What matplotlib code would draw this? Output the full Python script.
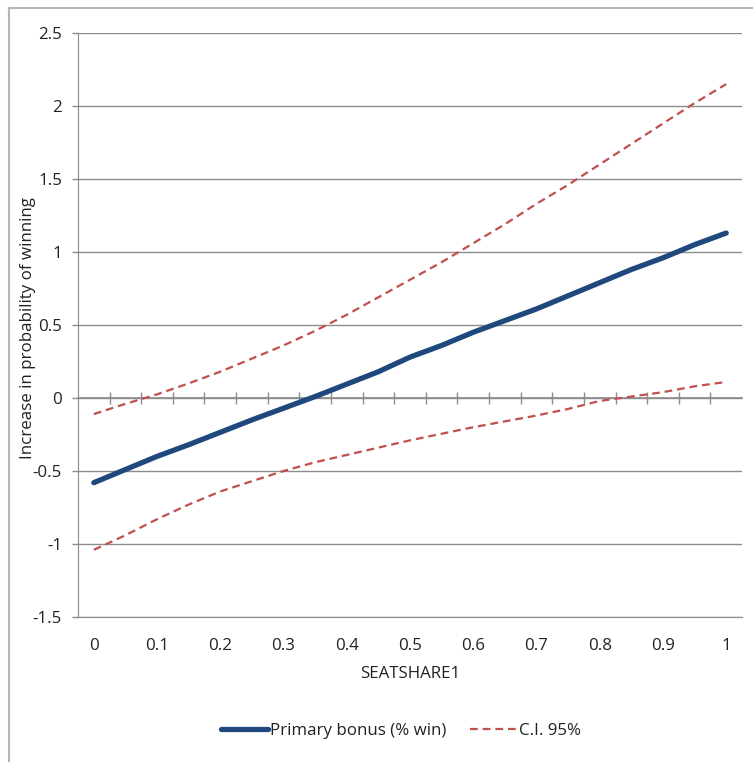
import matplotlib
matplotlib.use("Agg")
import matplotlib.pyplot as plt
from matplotlib.lines import Line2D
import numpy as np

seatshare = [0.00, 0.05, 0.10, 0.15, 0.20, 0.25, 0.30, 0.35, 0.40, 0.45, 0.50,
             0.55, 0.60, 0.65, 0.70, 0.75, 0.80, 0.85, 0.90, 0.95, 1.00]
primary_bonus = [-0.58, -0.49, -0.40, -0.32, -0.235, -0.15, -0.07, 0.01, 0.095, 0.18, 0.28,
                 0.36, 0.45, 0.53, 0.61, 0.70, 0.79, 0.88, 0.96, 1.05, 1.13]
ci_upper = [-0.11, -0.04, 0.025, 0.10, 0.18, 0.27, 0.36, 0.46, 0.57, 0.69, 0.81,
            0.93, 1.06, 1.19, 1.33, 1.46, 1.60, 1.74, 1.88, 2.02, 2.15]
ci_lower = [-1.04, -0.94, -0.83, -0.73, -0.64, -0.57, -0.50, -0.44, -0.39, -0.34, -0.29,
            -0.245, -0.20, -0.16, -0.12, -0.075, -0.02, 0.01, 0.04, 0.08, 0.11]
x_ticklabels = ["0", "0.1", "0.2", "0.3", "0.4", "0.5", "0.6", "0.7", "0.8", "0.9", "1"]
y_ticks = [-1.5, -1, -0.5, 0, 0.5, 1, 1.5, 2, 2.5]
y_ticklabels = ["-1.5", "-1", "-0.5", "0", "0.5", "1", "1.5", "2", "2.5"]

plt.rcParams['font.family'] = ['Open Sans', 'DejaVu Sans']
FS = 12.2
TXT = "#222222"

W, H = 753, 762
fig = plt.figure(figsize=(W / 100, H / 100), dpi=100)
L, R, T, B = 78, 742, 33, 617
ax = fig.add_axes([L / W, 1 - B / H, (R - L) / W, (B - T) / H])

grid_c = "#8c8c8c"
blue = "#1f497d"
red = "#c0504d"

ax.plot(seatshare, primary_bonus, color=blue, lw=3.8, solid_capstyle="round", zorder=4,
        label="Primary bonus (% win)")
ax.plot(seatshare, ci_upper, color=red, lw=1.6, dashes=(3.5, 2.2), zorder=3, label="C.I. 95%")
ax.plot(seatshare, ci_lower, color=red, lw=1.6, dashes=(3.5, 2.2), zorder=3)

ax.set_xlim(-0.025, 1.025)
ax.set_ylim(-1.5, 2.5)

# y axis
ax.set_yticks(y_ticks)
ax.set_yticklabels(y_ticklabels, fontsize=FS, color=TXT)
ax.tick_params(axis="y", direction="out", length=4.5, width=1, color=grid_c, pad=7)
ax.yaxis.grid(True, color=grid_c, lw=1)
ax.set_axisbelow(True)

# x labels at bottom, no tick marks
ax.set_xticks(np.linspace(0, 1, 11))
ax.set_xticklabels(x_ticklabels, fontsize=FS, color=TXT)
ax.tick_params(axis="x", length=0, pad=15)
ax.set_xlabel("SEATSHARE1", fontsize=FS, labelpad=9, color=TXT)
ax.set_ylabel("Increase in probability of winning", fontsize=FS, color=TXT)
ax.yaxis.set_label_coords(-0.064, 0.495)

for s in ["top", "right"]:
    ax.spines[s].set_visible(False)
ax.spines["bottom"].set_color(grid_c)
ax.spines["left"].set_color(grid_c)

# horizontal axis crossing at y=0 with tick marks at category boundaries
sec = ax.secondary_xaxis((0 - (-1.5)) / 4.0)
sec.set_xticks(np.arange(-0.025 + 0.05, 1.025, 0.05))
sec.set_xticklabels([])
sec.tick_params(axis="x", direction="inout", length=9, width=1, color=grid_c)
sec.spines["bottom"].set_color(grid_c)
sec.spines["bottom"].set_linewidth(1.2)

# legend
leg = fig.legend(loc="center", bbox_to_anchor=(401 / W, 1 - 731 / H), ncol=2, frameon=False,
                 fontsize=FS, handlelength=2.8, handletextpad=0.1, columnspacing=1.4)
for t in leg.get_texts():
    t.set_color(TXT)

# outer chart frame
frame_c = "#b4b4b4"
fig.add_artist(Line2D([9 / W, 1.0], [1 - 8 / H, 1 - 8 / H], color=frame_c, lw=1.5,
                      transform=fig.transFigure))
fig.add_artist(Line2D([9 / W, 9 / W], [0.0, 1 - 8 / H], color=frame_c, lw=1.5,
                      transform=fig.transFigure))

fig.savefig("out.png", dpi=100)
